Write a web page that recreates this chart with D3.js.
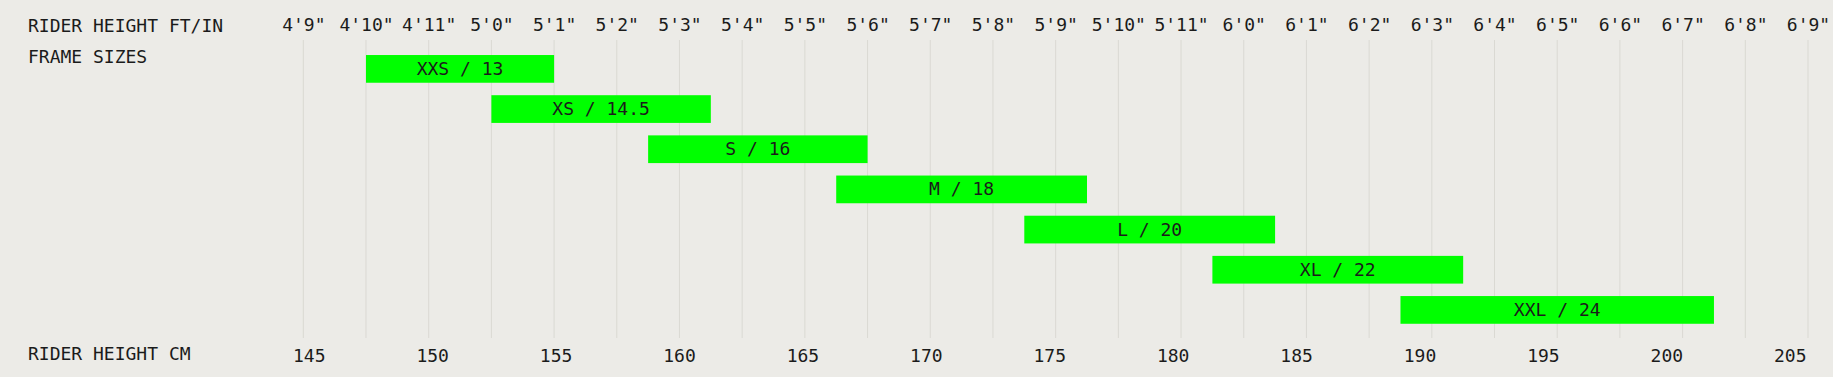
<!DOCTYPE html>
<html>
<head>
<meta charset="utf-8">
<script src="https://cdn.jsdelivr.net/npm/d3@7"></script>
<style>
  html, body { margin: 0; padding: 0; background: #ECEBE7; }
  svg { display: block; }
  text { font-family: "DejaVu Sans Mono", "Liberation Mono", monospace; fill: #1b1b1b; }
</style>
</head>
<body>
<svg id="chart" width="1833" height="377"></svg>
<script>
// ---- data ----
const inchTicks = [57,58,59,60,61,62,63,64,65,66,67,68,69,70,71,72,73,74,75,76,77,78,79,80,81];
const ftInLabels = ["4'9\"","4'10\"","4'11\"","5'0\"","5'1\"","5'2\"","5'3\"","5'4\"","5'5\"","5'6\"","5'7\"","5'8\"",
                    "5'9\"","5'10\"","5'11\"","6'0\"","6'1\"","6'2\"","6'3\"","6'4\"","6'5\"","6'6\"","6'7\"","6'8\"","6'9\""];
const cmTicks = [145,150,155,160,165,170,175,180,185,190,195,200,205];
const frameSizes = ["XXS / 13","XS / 14.5","S / 16","M / 18","L / 20","XL / 22","XXL / 24"];
const minInches = [58, 60, 62.5, 65.5, 68.5, 71.5, 74.5];
const maxInches = [61, 63.5, 66, 69.5, 72.5, 75.5, 79.5];

const rows = frameSizes.map((s, i) => ({ size: s, min: minInches[i], max: maxInches[i] }));

const svg = d3.select("#chart");
const W = 1833, H = 377;

const x = d3.scaleLinear().domain([57, 81]).range([303.3, 1808]);
const y = d3.scaleBand().domain(frameSizes).range([48.8, 330]).paddingInner(0.31).paddingOuter(0.155);

// gridlines
svg.append("g").selectAll("line").data(inchTicks).join("line")
  .attr("x1", d => x(d)).attr("x2", d => x(d))
  .attr("y1", 40).attr("y2", 338)
  .attr("stroke", "#DAD9D3").attr("stroke-width", 1);

// top axis (ft/in)
const topAxis = d3.axisTop(x).tickValues(inchTicks)
  .tickFormat((d, i) => ftInLabels[i]).tickSize(0).tickPadding(0);
const gTop = svg.append("g").attr("transform", "translate(0,31)").call(topAxis);
gTop.select(".domain").remove();
gTop.selectAll("text").attr("font-size", 18).attr("dy", 0)
  .style("font-family", '"DejaVu Sans Mono", monospace').attr("fill", "#1b1b1b");

// bottom axis (cm)
const xcm = d3.scaleLinear().domain([57 * 2.54, 81 * 2.54]).range(x.range());
const botAxis = d3.axisBottom(xcm).tickValues(cmTicks).tickFormat(d3.format("d")).tickSize(0).tickPadding(0);
const gBot = svg.append("g").attr("transform", "translate(0,362)").call(botAxis);
gBot.select(".domain").remove();
gBot.selectAll("text").attr("font-size", 18).attr("dy", 0)
  .style("font-family", '"DejaVu Sans Mono", monospace').attr("fill", "#1b1b1b");

// bars
svg.append("g").selectAll("rect").data(rows).join("rect")
  .attr("x", d => x(d.min)).attr("width", d => x(d.max) - x(d.min))
  .attr("y", d => y(d.size)).attr("height", y.bandwidth())
  .attr("fill", "#00FF00");

svg.append("g").selectAll("text").data(rows).join("text")
  .attr("x", d => (x(d.min) + x(d.max)) / 2)
  .attr("y", d => y(d.size) + y.bandwidth() / 2 + 6)
  .attr("text-anchor", "middle").attr("font-size", 18)
  .text(d => d.size);

// side labels
const sideLabels = [
  { t: "RIDER HEIGHT FT/IN", yy: 31.5 },
  { t: "FRAME SIZES", yy: 62.5 },
  { t: "RIDER HEIGHT CM", yy: 360 }
];
svg.append("g").selectAll("text").data(sideLabels).join("text")
  .attr("x", 28).attr("y", d => d.yy).attr("font-size", 18).text(d => d.t);
</script>
</body>
</html>
